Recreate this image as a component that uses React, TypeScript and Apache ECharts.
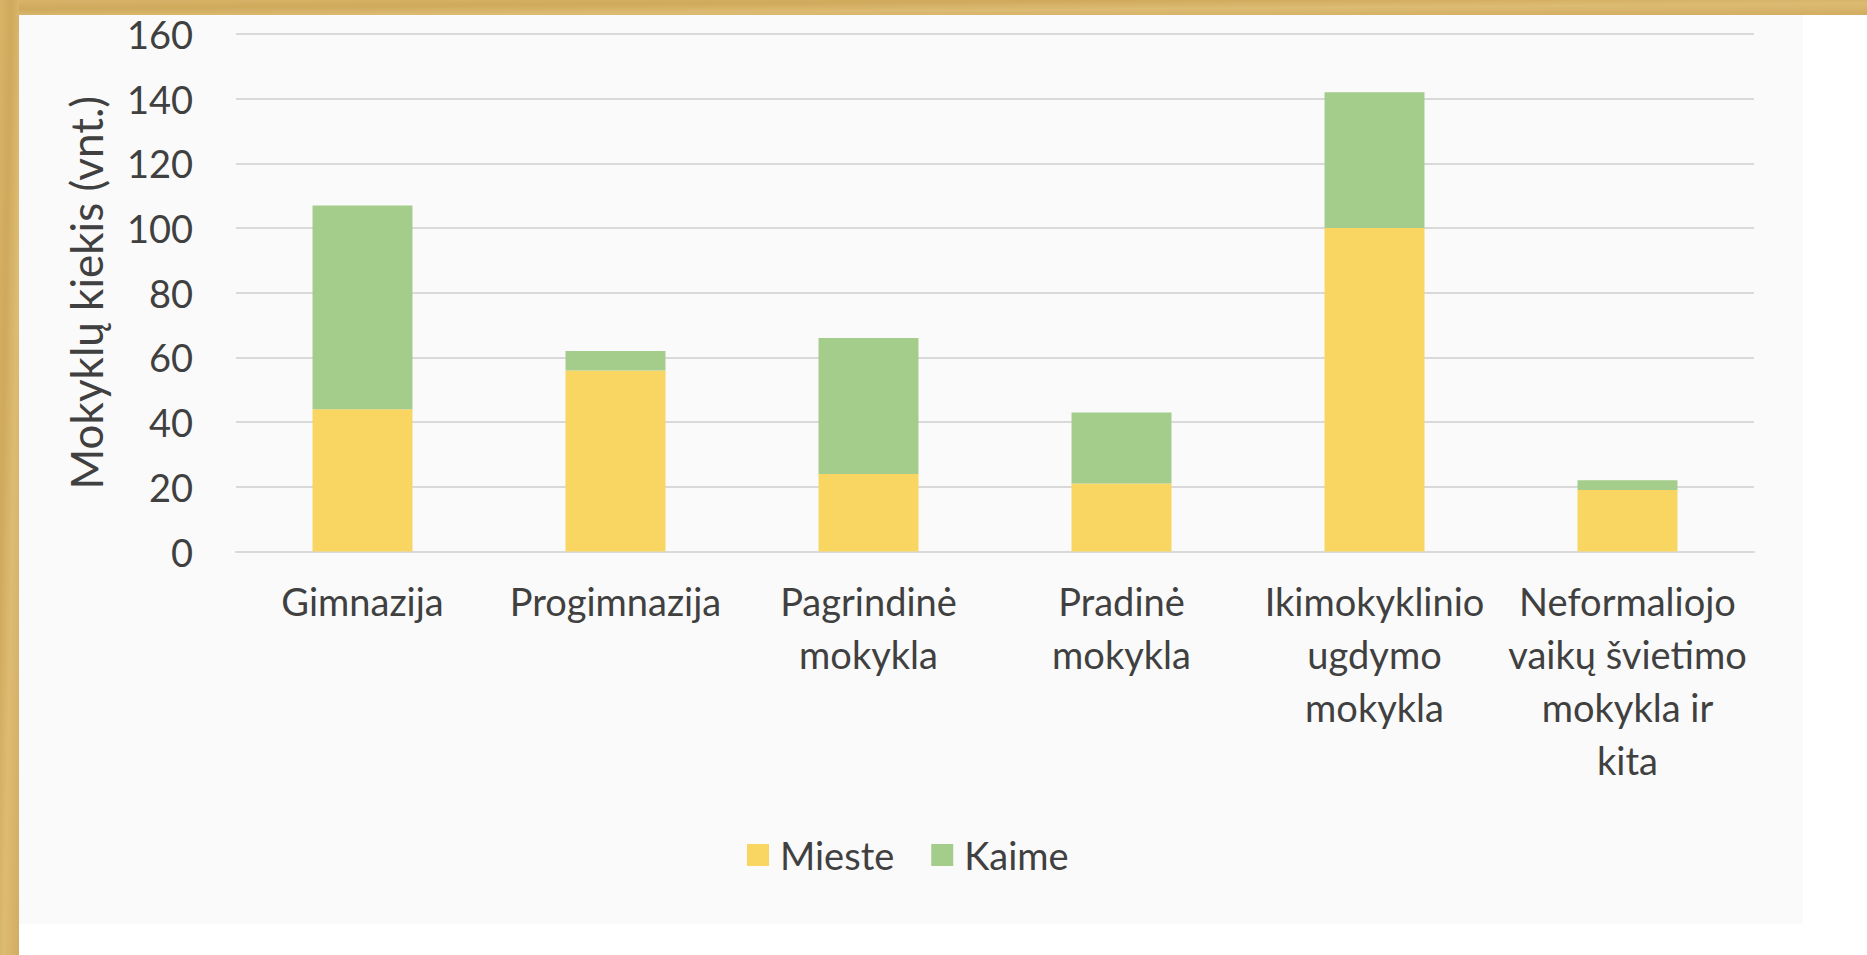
import React, { useEffect, useRef } from "react";
import * as echarts from "echarts";

const categories = [
  "Gimnazija",
  "Progimnazija",
  "Pagrindinė\nmokykla",
  "Pradinė\nmokykla",
  "Ikimokyklinio\nugdymo\nmokykla",
  "Neformaliojo\nvaikų švietimo\nmokykla ir\nkita",
];
const seriesNames = ["Mieste", "Kaime"];
const mieste = [44, 56, 24, 21, 100, 19];
const kaime = [63, 6, 42, 22, 42, 3];
const yMin = 0;
const yMax = 160;
const yStep = 20;
const yAxisTitle = "Mokyklų kiekis (vnt.)";

const FONT = "Lato, 'Open Sans', sans-serif";
const TEXT = "#404040";

export default function App() {
  const ref = useRef<HTMLDivElement>(null);
  useEffect(() => {
    if (!ref.current) return;
    const chart = echarts.init(ref.current, undefined, { renderer: "svg" });
    const parchment = {
      type: "linear",
      x: 0,
      y: 0,
      x2: 1,
      y2: 1,
      colorStops: [
        { offset: 0, color: "#d8b46a" },
        { offset: 0.3, color: "#cfa95c" },
        { offset: 0.6, color: "#dcbb72" },
        { offset: 1, color: "#d2ad62" },
      ],
    };
    chart.setOption({
      animation: false,
      backgroundColor: "#ffffff",
      textStyle: { fontFamily: FONT },
      graphic: [
        { type: "rect", z: -100, silent: true, shape: { x: 0, y: 0, width: 1867, height: 15 }, style: { fill: parchment } },
        { type: "rect", z: -100, silent: true, shape: { x: 0, y: 0, width: 19, height: 955 }, style: { fill: parchment } },
        { type: "rect", z: -100, silent: true, shape: { x: 19, y: 15, width: 1784, height: 909 }, style: { fill: "#fafafa" } },
      ],
      grid: { left: 236, right: 113, top: 34, bottom: 403.5, containLabel: false },
      legend: {
        data: seriesNames,
        left: 747,
        top: 836,
        padding: 0,
        itemWidth: 22,
        itemHeight: 22,
        itemGap: 37,
        icon: "rect",
        textStyle: { fontFamily: FONT, fontSize: 38, color: TEXT, padding: [0, 0, 0, 6] },
      },
      xAxis: {
        type: "category",
        data: categories,
        axisTick: { show: false },
        axisLine: { lineStyle: { color: "#d9d9d9", width: 2 } },
        axisLabel: {
          interval: 0,
          margin: 23,
          fontFamily: FONT,
          fontSize: 38,
          lineHeight: 53,
          color: TEXT,
          align: "center",
        },
      },
      yAxis: {
        type: "value",
        min: yMin,
        max: yMax,
        interval: yStep,
        name: yAxisTitle,
        nameLocation: "middle",
        nameGap: 128,
        nameRotate: 90,
        nameTextStyle: { fontFamily: FONT, fontSize: 44, color: TEXT },
        axisLine: { show: false },
        axisTick: { show: false },
        axisLabel: { margin: 43, fontFamily: FONT, fontSize: 38, color: TEXT },
        splitLine: { lineStyle: { color: "#d9d9d9", width: 2 } },
      },
      series: [
        {
          name: seriesNames[0],
          type: "bar",
          stack: "total",
          barWidth: "39.5%",
          data: mieste,
          itemStyle: { color: "#f9d562" },
        },
        {
          name: seriesNames[1],
          type: "bar",
          stack: "total",
          barWidth: "39.5%",
          data: kaime,
          itemStyle: { color: "#a4cd8b" },
        },
      ],
    });
    return () => chart.dispose();
  }, []);
  return (
    <div
      ref={ref}
      style={{ position: "fixed", left: 0, top: 0, width: 1867, height: 955 }}
    />
  );
}
